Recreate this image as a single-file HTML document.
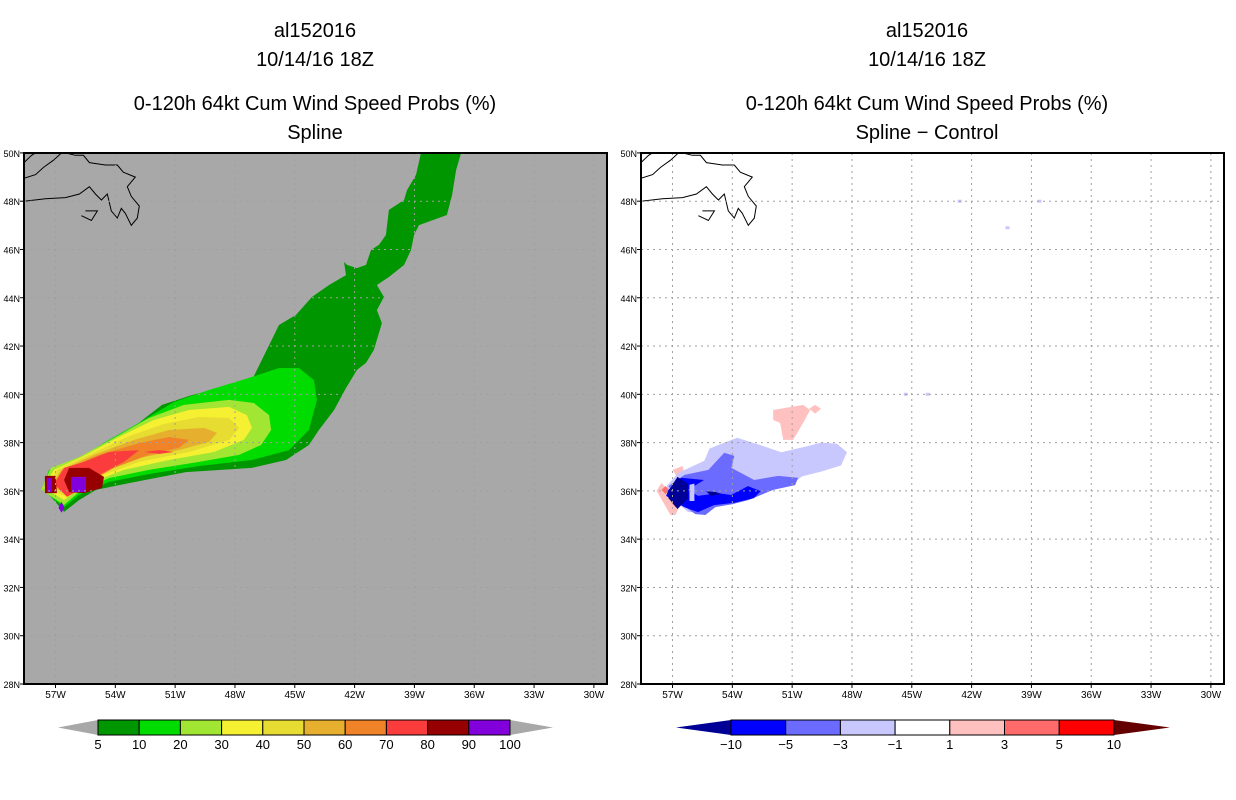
<!DOCTYPE html>
<html><head><meta charset="utf-8"><style>
body{margin:0;background:#fff;}
svg{display:block;font-family:"Liberation Sans",sans-serif;}
</style></head><body>
<svg id="chart" width="1236" height="800" viewBox="0 0 1236 800">
<g id="titles" font-size="20" text-anchor="middle" fill="#000">
<text x="315" y="37">al152016</text>
<text x="315" y="66">10/14/16 18Z</text>
<text x="315" y="110">0-120h 64kt Cum Wind Speed Probs (%)</text>
<text x="315" y="139">Spline</text>
<text x="927" y="37">al152016</text>
<text x="927" y="66">10/14/16 18Z</text>
<text x="927" y="110">0-120h 64kt Cum Wind Speed Probs (%)</text>
<text x="927" y="139">Spline − Control</text>
</g>
<g id="left"></g>
<g id="right"></g>
<g id="cbars"></g>
</svg>
<script>
// ---- data (lon, lat pairs) ----
const lonTicks = [-57,-54,-51,-48,-45,-42,-39,-36,-33,-30];
const lonLabels = ["57W","54W","51W","48W","45W","42W","39W","36W","33W","30W"];
const latTicks = [28,30,32,34,36,38,40,42,44,46,48,50];
const latLabels = ["28N","30N","32N","34N","36N","38N","40N","42N","44N","46N","48N","50N"];
const probLevels = [5,10,20,30,40,50,60,70,80,90,100];
const probColors = ["#009600","#00dc00","#a0e632","#f5f032","#e6dc32","#e6af2d","#f08228","#fa3c3c","#960000","#8200dc"];
const diffLevels = ["-10","-5","-3","-1","1","3","5","10"];
const diffColors = ["#000096","#0000ff","#6b6bff","#c8c8ff","#ffffff","#ffc0c0","#ff6b6b","#ff0000","#640000"];

const prob5 = [-57.53,36.04,-57.18,36.87,-55.82,37.28,-54.67,37.90,-52.96,38.73,-51.66,39.56,-50.15,39.97,-47.15,40.59,-45.79,42.87,-44.94,43.29,-44.14,44.03,-43.28,44.53,-42.43,44.94,-42.53,45.48,-42.38,45.36,-41.88,45.23,-41.43,45.36,-41.18,45.98,-40.78,46.19,-40.43,46.60,-40.28,47.64,-39.52,48.05,-39.37,48.46,-38.92,49.09,-38.67,50.0,-36.66,50.0,-36.91,49.29,-37.11,48.26,-37.37,47.43,-38.77,47.01,-39.02,46.60,-39.17,45.98,-39.52,45.36,-40.28,44.86,-40.88,44.53,-40.53,44.03,-40.88,43.49,-40.63,42.95,-41.03,41.84,-41.43,41.30,-41.88,41.01,-42.43,40.26,-43.03,39.35,-43.79,38.52,-44.29,37.90,-45.44,37.28,-47.15,36.95,-50.46,36.78,-53.82,36.24,-54.97,36.04,-55.82,35.62,-56.57,35.13];
const prob10 = [-57.68,36.04,-57.33,36.87,-55.82,37.36,-54.32,38.11,-52.56,38.94,-51.06,39.68,-49.30,40.18,-47.30,40.68,-45.79,41.09,-44.79,41.09,-44.04,40.59,-43.89,39.76,-44.29,38.52,-45.29,37.69,-47.15,37.28,-49.80,37.03,-52.31,36.70,-54.32,36.37,-55.82,35.83,-56.57,35.33];
const prob20 = [-57.73,36.04,-57.23,36.95,-55.82,37.40,-54.07,38.19,-52.31,39.02,-50.56,39.56,-48.30,39.77,-47.05,39.64,-46.29,39.14,-46.19,38.52,-46.69,37.90,-47.80,37.49,-49.80,37.20,-52.31,36.87,-54.32,36.53,-55.82,35.95,-56.57,35.42];
const prob30 = [-57.58,36.12,-57.08,36.87,-55.57,37.45,-53.82,38.23,-52.06,38.94,-50.31,39.35,-48.30,39.48,-47.40,39.14,-47.15,38.61,-47.55,38.11,-49.05,37.61,-51.31,37.28,-53.57,36.87,-55.57,36.24,-56.57,35.62];
const prob40 = [-57.43,36.12,-56.93,36.87,-55.32,37.49,-53.32,38.27,-51.56,38.77,-49.80,39.06,-48.30,39.02,-47.80,38.61,-48.30,38.11,-50.31,37.61,-52.81,37.20,-55.07,36.53,-56.42,35.75];
const prob50 = [-57.23,36.20,-56.72,36.87,-55.07,37.49,-53.06,38.11,-51.31,38.52,-49.55,38.61,-48.90,38.40,-49.30,38.03,-50.81,37.69,-52.81,37.36,-54.82,36.70,-56.32,35.83];
const prob60 = [-57.08,36.24,-56.57,36.87,-54.82,37.49,-52.81,37.98,-51.31,38.23,-50.31,38.11,-50.81,37.78,-52.31,37.49,-54.07,36.95,-55.57,36.24,-56.32,35.83];
const prob70 = [-57.08,36.29,-56.57,36.95,-55.57,37.20,-54.32,37.61,-52.81,37.69,-53.57,37.20,-54.82,36.66,-55.82,36.04,-56.42,35.75];
const prob70b = [-52.56,37.61,-51.80,37.69,-51.06,37.61,-51.80,37.53];
const prob80 = [-56.32,36.95,-55.32,36.95,-54.57,36.58,-54.67,36.12,-55.57,35.91,-56.32,35.95,-56.57,36.45];
const prob80b = [-57.53,36.62,-57.00,36.62,-56.93,35.91,-57.53,35.91];
const prob80c = [-56.85,35.30,-56.70,35.55,-56.55,35.30,-56.70,35.10];
const prob90 = [-56.22,36.58,-55.47,36.58,-55.47,35.95,-56.22,35.95];
const prob90b = [-57.43,36.53,-57.18,36.53,-57.18,35.95,-57.43,35.95];

const diffM1 = [-57.3,36.2,-56.7,36.75,-55.4,37.25,-55.15,37.75,-54.4,38.0,-53.75,38.2,-53.0,38.0,-52.6,37.9,-51.55,37.6,-50.25,37.85,-49.55,38.0,-48.75,37.95,-48.25,37.6,-48.55,37.05,-49.55,36.8,-50.5,36.6,-50.85,36.37,-51.7,36.2,-52.5,35.95,-53.2,35.66,-54.35,35.58,-55.2,35.45,-55.7,35.12,-56.2,35.12,-56.85,35.54,-57.2,36.04];
const diffM3 = [-57.2,36.2,-56.4,36.66,-55.2,36.87,-54.4,37.58,-53.9,37.45,-54.05,36.95,-52.9,36.45,-51.7,36.62,-50.7,36.54,-50.85,36.24,-51.95,36.04,-53.2,35.62,-54.0,35.45,-54.85,35.33,-55.35,35.0,-55.85,35.04,-56.57,35.45];
const diffM5 = [-57.2,36.04,-56.57,36.54,-55.42,36.45,-56.22,36.04,-55.72,35.79,-54.72,35.91,-54.07,35.83,-53.57,36.04,-53.22,36.20,-52.57,35.99,-52.92,35.70,-53.92,35.50,-54.92,35.41,-55.72,35.12,-56.42,35.33,-57.32,35.79];
const diffM10 = [-57.2,36.00,-56.75,36.58,-56.22,36.29,-56.22,35.70,-56.75,35.25,-57.2,35.70];
const diffM10b = [-55.32,35.99,-54.82,35.95,-54.57,35.87,-55.07,35.79];
const diffGap = [-56.15,36.25,-55.9,36.3,-55.9,35.58,-56.15,35.58];
const diffP1 = [-51.95,39.35,-50.45,39.56,-50.10,39.35,-50.45,38.81,-50.95,38.11,-51.45,38.11,-51.60,38.81,-51.95,38.94];
const diffP1b = [-49.85,39.56,-49.55,39.40,-49.85,39.20,-50.15,39.40];
const diffP1c = [-57.8,36.00,-57.55,36.33,-56.6,35.45,-56.85,35.0,-57.1,35.0];
const diffP1d = [-57.0,36.87,-56.5,37.03,-56.4,36.70,-56.8,36.62];
const diffP3a = [-57.55,36.04,-57.35,36.20,-57.15,36.04,-57.35,35.87];
const diffP3b = [-57.05,35.50,-56.85,35.66,-56.65,35.50,-56.85,35.33];
const diffSpecks = [-45.3,40.0,-44.2,40.0,-28.9,49.5,-42.6,48.0,-40.2,46.9,-38.6,48.0];

// coastline (Newfoundland, rough) as lon/lat
const coast = [[-58.58,48.0,-57.5,48.1,-56.5,48.15,-55.8,48.3,-55.3,48.6,-55.0,48.3,-54.7,48.05,-54.4,48.3,-54.2,47.6,-53.9,47.3,-53.7,47.7,-53.5,47.5,-53.2,47.0,-52.9,47.3,-52.8,47.8,-53.2,48.2,-53.4,48.6,-53.0,49.0,-53.6,49.2,-53.9,49.5,-54.5,49.5,-55.3,49.6,-55.6,49.9,-56.0,49.9,-56.5,50.0],
[-58.58,48.95,-58.0,49.1,-57.6,49.4,-57.1,49.7,-56.7,50.0],
[-58.58,49.6,-58.2,49.9,-58.0,50.0],
[-55.7,47.4,-55.2,47.2,-54.9,47.6,-55.5,47.6]];

// ---- projection ----
const LON0=-58.58, PXDEG=19.94, LAT0=28, PYDEG=24.14, PY0=684;
function xs(lon, x0){ return x0 + (lon-LON0)*PXDEG; }
function ys(lat){ return PY0 - (lat-LAT0)*PYDEG; }
const NS='http://www.w3.org/2000/svg';
function mk(tag, parent){ const e=document.createElementNS(NS,tag); parent.appendChild(e); return e; }
function pts(arr,x0){ let s=''; for(let i=0;i<arr.length;i+=2){ s+=xs(arr[i],x0).toFixed(1)+','+ys(arr[i+1]).toFixed(1)+' '; } return s; }
function poly(g,arr,x0,fill,name){
  const p=mk('polygon',g); p.setAttribute('points',pts(arr,x0)); p.setAttribute('fill',fill);
  
  
  return p;
}

function panel(g, x0, bg, drawFill, prefix){
  const W=583, top=153;
  const clipId=prefix+'clip';
  const cp=mk('clipPath',g); cp.setAttribute('id',clipId);
  const cr=mk('rect',cp); cr.setAttribute('x',x0); cr.setAttribute('y',top); cr.setAttribute('width',W); cr.setAttribute('height',PY0-top);
  const bgr=mk('rect',g); bgr.setAttribute('x',x0); bgr.setAttribute('y',top); bgr.setAttribute('width',W); bgr.setAttribute('height',PY0-top); bgr.setAttribute('fill',bg);
  
  
  const fg=mk('g',g); fg.setAttribute('clip-path','url(#'+clipId+')');
  drawFill(fg,x0);
  const gg=mk('g',g); gg.setAttribute('stroke','#a0a0a0'); gg.setAttribute('stroke-dasharray','2,4'); gg.setAttribute('stroke-width','1');
  lonTicks.forEach((lo,i)=>{ const l=mk('line',gg); const x=xs(lo,x0); l.setAttribute('x1',x); l.setAttribute('x2',x); l.setAttribute('y1',top); l.setAttribute('y2',PY0);
    
     });
  latTicks.forEach((la)=>{ if(la===28||la===50) return; const l=mk('line',gg); const y=ys(la); l.setAttribute('x1',x0); l.setAttribute('x2',x0+W); l.setAttribute('y1',y); l.setAttribute('y2',y);
    
     });
  coast.forEach(c=>{ const pl=mk('polyline',fg); pl.setAttribute('points',pts(c,x0)); pl.setAttribute('fill','none'); pl.setAttribute('stroke','#000'); pl.setAttribute('stroke-width','1');
    
     });
  const fr=mk('rect',g); fr.setAttribute('x',x0); fr.setAttribute('y',top); fr.setAttribute('width',W); fr.setAttribute('height',PY0-top); fr.setAttribute('fill','none'); fr.setAttribute('stroke','#000'); fr.setAttribute('stroke-width','2');
  
  
  lonTicks.forEach((lo,i)=>{ const x=xs(lo,x0);
    const t=mk('line',g); t.setAttribute('x1',x); t.setAttribute('x2',x); t.setAttribute('y1',PY0); t.setAttribute('y2',PY0+4); t.setAttribute('stroke','#000');
    
    
    const tx=mk('text',g); tx.setAttribute('x',x); tx.setAttribute('y',PY0+14); tx.setAttribute('font-size','10'); tx.setAttribute('text-anchor','middle'); tx.textContent=lonLabels[i];
    
     });
  latTicks.forEach((la,i)=>{ const y=ys(la);
    const t=mk('line',g); t.setAttribute('x1',x0-4); t.setAttribute('x2',x0); t.setAttribute('y1',y); t.setAttribute('y2',y); t.setAttribute('stroke','#000');
    
    
    const tx=mk('text',g); tx.setAttribute('x',x0-4); tx.setAttribute('y',y+4); tx.setAttribute('font-size','9'); tx.setAttribute('text-anchor','end'); tx.textContent=latLabels[i];
    
     });
}

panel(document.getElementById('left'), 24, '#a8a8a8', (g,x0)=>{
  const layers=[prob5,prob10,prob20,prob30,prob40,prob50,prob60,prob70];
  layers.forEach((L,i)=>poly(g,L,x0,probColors[i],'prob-contour-'+probLevels[i]));
  poly(g,prob70b,x0,probColors[7],'prob-contour-70-spot');
  poly(g,prob80,x0,probColors[8],'prob-contour-80');
  poly(g,prob80b,x0,probColors[8],'prob-contour-80-west');
  poly(g,prob80c,x0,probColors[9],'prob-contour-90-south');
  poly(g,prob90,x0,probColors[9],'prob-contour-90');
  poly(g,prob90b,x0,probColors[9],'prob-contour-90-west');
}, 'left');

panel(document.getElementById('right'), 641, '#ffffff', (g,x0)=>{
  poly(g,diffP1,x0,diffColors[5],'diff-pos-1-north');
  poly(g,diffP1b,x0,diffColors[5],'diff-pos-1-speck');
  poly(g,diffP1c,x0,diffColors[5],'diff-pos-1-west');
  poly(g,diffP1d,x0,diffColors[5],'diff-pos-1-nw');
  poly(g,diffP3a,x0,diffColors[6],'diff-pos-3-a');
  poly(g,diffP3b,x0,diffColors[6],'diff-pos-3-b');
  poly(g,diffM1,x0,diffColors[3],'diff-neg-1');
  poly(g,diffM3,x0,diffColors[2],'diff-neg-3');
  poly(g,diffM5,x0,diffColors[1],'diff-neg-5');
  poly(g,diffGap,x0,diffColors[3],'diff-gap');
  poly(g,diffM10,x0,diffColors[0],'diff-neg-10');
  poly(g,diffM10b,x0,diffColors[0],'diff-neg-10-east');
  for(let i=0;i<diffSpecks.length;i+=2){
    const r=mk('rect',g); r.setAttribute('x',xs(diffSpecks[i],x0)-2); r.setAttribute('y',ys(diffSpecks[i+1])-1.5); r.setAttribute('width',4); r.setAttribute('height',3); r.setAttribute('fill','#c8c8ff');
    
    
  }
}, 'right');

// ---- colorbars ----
const cb=document.getElementById('cbars');
(function(){
  const y0=720,h=15,x0=98,w=41.2;
  const lt=mk('polygon',cb); lt.setAttribute('points',`${x0},${y0} ${x0-40},${y0+h/2} ${x0},${y0+h}`); lt.setAttribute('fill','#a8a8a8');
  
  
  const xe=x0+w*probColors.length;
  const rt=mk('polygon',cb); rt.setAttribute('points',`${xe},${y0} ${xe+43},${y0+h/2} ${xe},${y0+h}`); rt.setAttribute('fill','#a8a8a8');
  
  
  probColors.forEach((c,i)=>{ const r=mk('rect',cb); r.setAttribute('x',x0+i*w); r.setAttribute('y',y0); r.setAttribute('width',w); r.setAttribute('height',h); r.setAttribute('fill',c); r.setAttribute('stroke','#000');
    
     });
  probLevels.forEach((v,i)=>{ const t=mk('text',cb); t.setAttribute('x',x0+i*w); t.setAttribute('y',y0+h+14); t.setAttribute('font-size','13'); t.setAttribute('text-anchor','middle'); t.textContent=v;
    
     });
})();
(function(){
  const y0=720,h=15,x0=731,w=54.7;
  const lt=mk('polygon',cb); lt.setAttribute('points',`${x0},${y0} ${x0-55},${y0+h/2} ${x0},${y0+h}`); lt.setAttribute('fill',diffColors[0]);
  
  
  const xe=x0+w*7;
  const rt=mk('polygon',cb); rt.setAttribute('points',`${xe},${y0} ${xe+56},${y0+h/2} ${xe},${y0+h}`); rt.setAttribute('fill',diffColors[8]);
  
  
  for(let i=1;i<=7;i++){ const r=mk('rect',cb); r.setAttribute('x',x0+(i-1)*w); r.setAttribute('y',y0); r.setAttribute('width',w); r.setAttribute('height',h); r.setAttribute('fill',diffColors[i]); r.setAttribute('stroke','#000');
    
     }
  diffLevels.forEach((v,i)=>{ const t=mk('text',cb); t.setAttribute('x',x0+i*w); t.setAttribute('y',y0+h+14); t.setAttribute('font-size','13'); t.setAttribute('text-anchor','middle'); t.textContent=v.replace('-','−');
    
     });
})();
</script>
</body></html>
